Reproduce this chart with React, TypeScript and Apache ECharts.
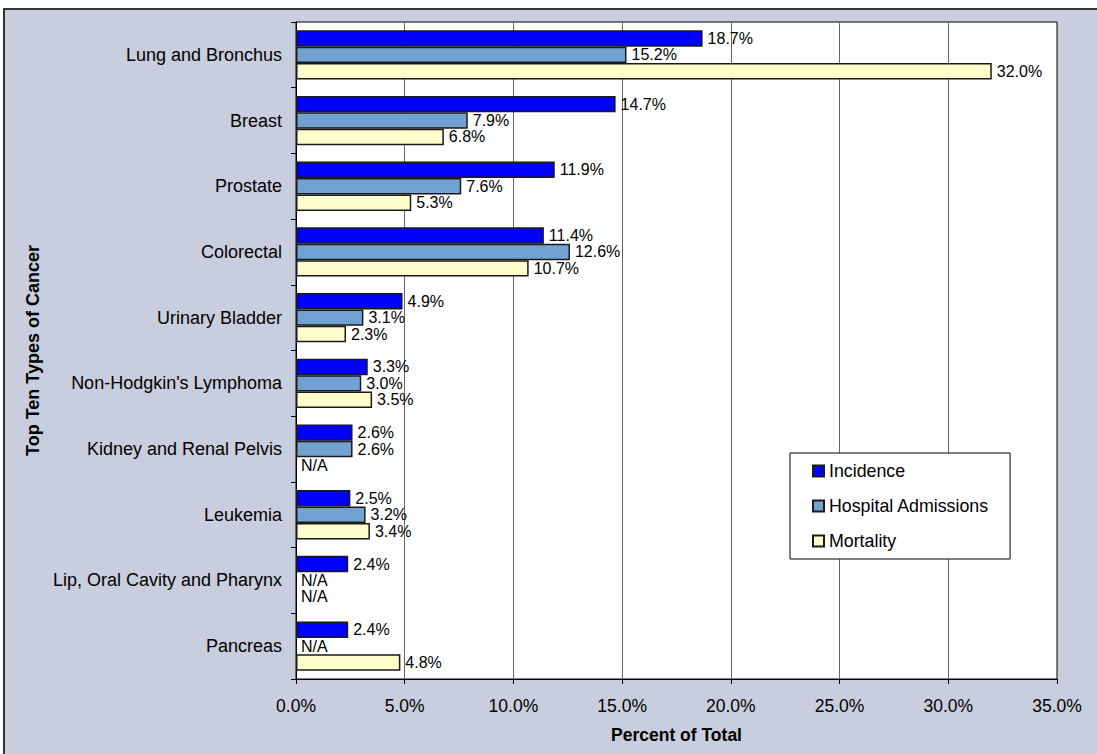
import React, { useEffect, useRef } from "react";
import * as echarts from "echarts";

const categories = [
  "Lung and Bronchus",
  "Breast",
  "Prostate",
  "Colorectal",
  "Urinary Bladder",
  "Non-Hodgkin's Lymphoma",
  "Kidney and Renal Pelvis",
  "Leukemia",
  "Lip, Oral Cavity and Pharynx",
  "Pancreas",
];
const incidence: (number | null)[] = [18.7, 14.7, 11.9, 11.4, 4.9, 3.3, 2.6, 2.5, 2.4, 2.4];
const hospitalAdmissions: (number | null)[] = [15.2, 7.9, 7.6, 12.6, 3.1, 3.0, 2.6, 3.2, null, null];
const mortality: (number | null)[] = [32.0, 6.8, 5.3, 10.7, 2.3, 3.5, null, 3.4, null, 4.8];
const xTicks = { min: 0, max: 35, interval: 5 };

const FONT = 'Arial, "Liberation Sans", sans-serif';

function toData(arr: (number | null)[]) {
  return arr.map((v) =>
    v == null
      ? {
          value: 0,
          itemStyle: { borderWidth: 0, color: "rgba(0,0,0,0)" },
          label: { formatter: "N/A" },
        }
      : { value: v }
  );
}

export default function App() {
  const ref = useRef<HTMLDivElement>(null);
  useEffect(() => {
    if (!ref.current) return;
    const chart = echarts.init(ref.current, null, { renderer: "svg" });
    const mkSeries = (name: string, arr: (number | null)[], color: string) => ({
      name,
      type: "bar",
      data: toData(arr),
      barGap: "0%",
      barCategoryGap: "25%",
      itemStyle: { color, borderColor: "#1a1a1a", borderWidth: 1.5 },
      label: {
        show: true,
        position: "right",
        distance: 5,
        fontFamily: FONT,
        fontSize: 16,
        color: "#000",
        formatter: (p: any) => Number(p.value).toFixed(1) + "%",
      },
    });
    chart.setOption({
      animation: false,
      backgroundColor: "#fff",
      graphic: [
        {
          type: "rect",
          z: -10,
          silent: true,
          shape: { x: 4, y: 9, width: 1100, height: 750 },
          style: { fill: "#C8CEDE", stroke: "#333", lineWidth: 2 },
        },
      ],
      legend: {
        orient: "vertical",
        left: 790,
        top: 453,
        backgroundColor: "#fff",
        borderColor: "#000",
        borderWidth: 1,
        padding: [9, 21, 9, 22],
        itemGap: 17,
        itemWidth: 11,
        itemHeight: 11,
        icon: "rect",
        textStyle: { fontFamily: FONT, fontSize: 17.8, color: "#000" },
        data: ["Incidence", "Hospital Admissions", "Mortality"],
      },
      grid: {
        left: 296,
        top: 22,
        width: 761,
        height: 657,
        show: true,
        backgroundColor: "#fff",
        borderColor: "#000",
        borderWidth: 1,
      },
      xAxis: {
        type: "value",
        min: xTicks.min,
        max: xTicks.max,
        interval: xTicks.interval,
        name: "Percent of Total",
        nameLocation: "middle",
        nameGap: 47,
        nameTextStyle: { fontFamily: FONT, fontSize: 17.5, fontWeight: "bold", color: "#000" },
        axisLine: { show: true, lineStyle: { color: "#000", width: 1 } },
        axisTick: { show: true, length: 5, lineStyle: { color: "#000" } },
        axisLabel: {
          fontFamily: FONT,
          fontSize: 17.5,
          color: "#000",
          margin: 18,
          formatter: (v: number) => v.toFixed(1) + "%",
        },
        splitLine: { show: true, lineStyle: { color: "#666", width: 1 } },
      },
      yAxis: {
        type: "category",
        inverse: true,
        data: categories,
        name: "Top Ten Types of Cancer",
        nameLocation: "middle",
        nameGap: 252,
        nameTextStyle: { fontFamily: FONT, fontSize: 18, fontWeight: "bold", color: "#000" },
        axisLine: { show: true, lineStyle: { color: "#000", width: 1 } },
        axisTick: { show: true, length: 5, lineStyle: { color: "#000" } },
        axisLabel: { fontFamily: FONT, fontSize: 18, color: "#000", margin: 14 },
      },
      series: [
        mkSeries("Incidence", incidence, "#0000FF"),
        mkSeries("Hospital Admissions", hospitalAdmissions, "#72A2D2"),
        mkSeries("Mortality", mortality, "#FFFFCC"),
      ],
    });
    return () => chart.dispose();
  }, []);
  return (
    <div
      ref={ref}
      style={{ position: "fixed", left: 0, top: 0, width: 1097, height: 754 }}
    />
  );
}
